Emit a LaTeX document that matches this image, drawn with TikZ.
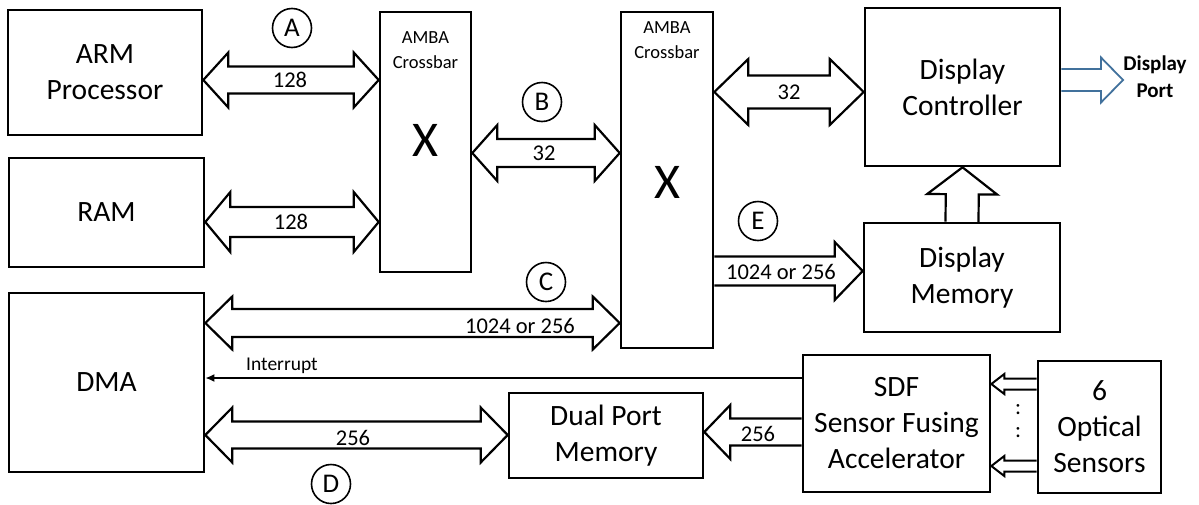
\documentclass[tikz,border=0pt]{standalone}
\usepackage{fontspec}
\setmainfont{Carlito}
\usetikzlibrary{calc,arrows.meta}
\definecolor{dpblue}{HTML}{41719C}
% single hollow arrow: [style]{tail}{tip}{shaft half}{head half}{head length}
\newcommand\sarrow[6][]{%
 \path #2 coordinate (tA) #3 coordinate (tB);
 \path ($(tB)!#6!(tA)$) coordinate (tH);
 \draw[harrow,#1] ($(tA)!#4!90:(tB)$) -- ($(tH)!#4!90:(tB)$) -- ($(tH)!#5!90:(tB)$) -- (tB)
   -- ($(tH)!#5!-90:(tB)$) -- ($(tH)!#4!-90:(tB)$) -- ($(tA)!#4!-90:(tB)$);
}
% double hollow arrow: {end A}{end B}{shaft half}{head half}{head length}
\newcommand\darrow[5]{%
 \path #1 coordinate (tA) #2 coordinate (tB);
 \path ($(tB)!#5!(tA)$) coordinate (tH) ($(tA)!#5!(tB)$) coordinate (tG);
 \draw[harrow] (tA) -- ($(tG)!#4!90:(tB)$) -- ($(tG)!#3!90:(tB)$) -- ($(tH)!#3!90:(tB)$)
   -- ($(tH)!#4!90:(tB)$) -- (tB) -- ($(tH)!#4!-90:(tB)$) -- ($(tH)!#3!-90:(tB)$)
   -- ($(tG)!#3!-90:(tB)$) -- ($(tG)!#4!-90:(tB)$) -- cycle;
}
\begin{document}
\begin{tikzpicture}[x=1pt,y=-1pt,
  box/.style={draw,line width=2.6pt,inner sep=0pt,align=center,font=\fontsize{29.5}{36}\selectfont},
  harrow/.style={draw,line width=2.2pt,fill=white,line join=miter},
  lbl/.style={font=\fontsize{22.5}{25}\selectfont,inner sep=0pt},
  xtext/.style={align=center,inner sep=0pt,font=\fontsize{18.5}{25}\selectfont},
  bigx/.style={inner sep=0pt,font=\fontsize{50}{50}\selectfont},
  circ/.style={draw,circle,line width=1.6pt,minimum size=39pt,inner sep=0pt,font=\fontsize{27}{30}\selectfont}]
\useasboundingbox[fill=white] (0,0) rectangle (1199,504);

% blocks
\node[box,minimum width=194pt,minimum height=125pt] (arm) at (105,72.5) {ARM\\Processor};
\node[box,minimum width=195pt,minimum height=109pt] (ram) at (106.5,212.5) {RAM};
\node[box,minimum width=195pt,minimum height=179pt] (dma) at (106.5,382.5) {DMA};
\node[box,minimum width=91pt,minimum height=260pt] (xbar1) at (425.5,142) {};
\node[xtext] (xt1) at (425.5,50.5) {AMBA\\Crossbar};
\node[bigx] (xx1) at (425.5,140) {X};
\node[box,minimum width=92pt,minimum height=336pt] (xbar2) at (667,180) {};
\node[xtext] (xt2) at (667,40) {AMBA\\Crossbar};
\node[bigx] (xx2) at (667,182) {X};
\node[box,minimum width=195pt,minimum height=158pt] (dc) at (962.5,87) {Display\\Controller};
\node[box,minimum width=196pt,minimum height=109pt] (dm) at (962,277.5) {Display\\Memory};
\node[box,minimum width=194pt,minimum height=85pt] (dpm) at (606,435.5) {Dual Port\\Memory};
\node[box,minimum width=187pt,minimum height=137pt] (sdf) at (896.5,423.5) {SDF\\Sensor Fusing\\Accelerator};
\node[box,minimum width=123pt,minimum height=132pt] (opt) at (1099.5,427) {6\\Optical\\Sensors};
\node[align=center,inner sep=0pt,font=\bfseries\fontsize{21}{27}\selectfont] (dp) at (1155,77) {Display\\Port};
\coordinate (dpend) at (1123,80);

% bus arrows
\darrow{(arm.east |- 0,80)}{(xbar1.west |- 0,80)}{13.5pt}{27.5pt}{25pt}
\node[lbl] (l1) at (290,80) {128};
\darrow{(ram.east |- 0,222)}{(xbar1.west |- 0,222)}{15pt}{30pt}{25pt}
\node[lbl] (l2) at (291,222) {128};
\darrow{(xbar1.east |- 0,153)}{(xbar2.west |- 0,153)}{14pt}{28pt}{25pt}
\node[lbl] (l3) at (544,153) {32};
\darrow{(xbar2.east |- 0,92)}{(dc.west |- 0,92)}{16.5pt}{33pt}{34pt}
\node[lbl] (l4) at (789,92) {32};
\darrow{(dma.east |- 0,323)}{(xbar2.west |- 0,323)}{14pt}{26.5pt}{27pt}
\node[lbl] (l5) at (520,326) {1024 or 256};
\darrow{(dma.east |- 0,435)}{(dpm.west |- 0,435)}{13.5pt}{27.5pt}{27pt}
\node[lbl] (l6) at (353,438) {256};
\sarrow{(xbar2.east |- 0,271)}{(dm.west |- 0,271)}{14.5pt}{29pt}{28pt}
\node[lbl] (l7) at (781,272) {1024 or 256};
\sarrow{(sdf.west |- 0,432)}{(dpm.east |- 0,432)}{13.5pt}{27pt}{26pt}
\node[lbl] (l8) at (758,434) {256};
\sarrow{(dm.north)}{(dc.south)}{16.5pt}{35pt}{27pt}
\sarrow[draw=dpblue,line width=1.8pt]{(dc.east |- dpend)}{(dpend)}{11pt}{22.5pt}{22pt}
\sarrow[line width=2pt]{(opt.west |- 0,384)}{(sdf.east |- 0,384)}{5.5pt}{10pt}{13pt}
\sarrow[line width=2pt]{(opt.west |- 0,466)}{(sdf.east |- 0,466)}{5.5pt}{10pt}{13pt}
\node[lbl] (d1) at (1018,410) {:};
\node[lbl] (d2) at (1018,433) {:};

% interrupt
\draw[line width=2.2pt,-{Latex[length=9pt,width=8pt]}] (sdf.west |- 0,378) -- (dma.east |- 0,378);
\node[inner sep=0pt,font=\fontsize{19.5}{22}\selectfont] (intr) at (282,366) {Interrupt};

% circled labels
\node[circ] (cA) at (292,28) {A};
\node[circ] (cB) at (542,102) {B};
\node[circ] (cC) at (546,282) {C};
\node[circ] (cD) at (331,484) {D};
\node[circ] (cE) at (758,221) {E};
\end{tikzpicture}
\end{document}
